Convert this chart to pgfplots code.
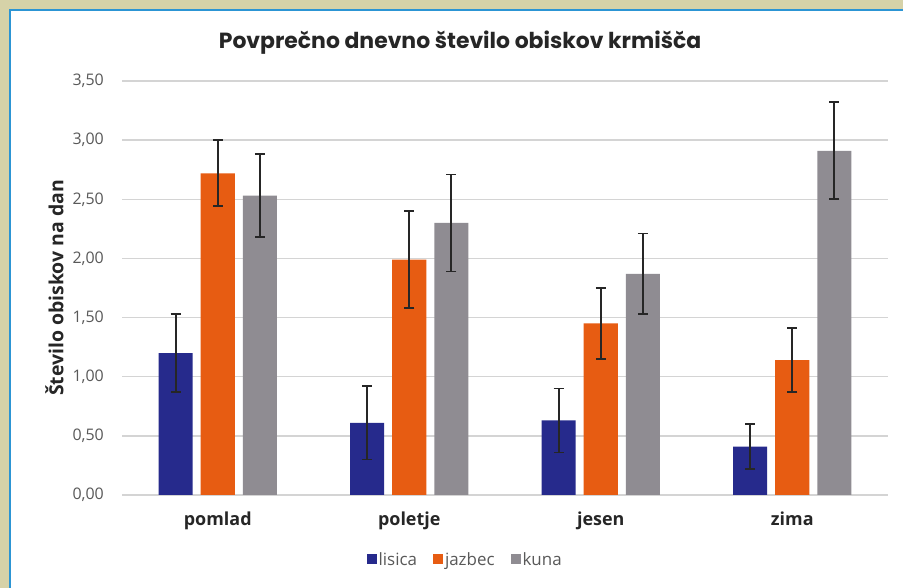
\documentclass[border=0pt]{standalone}
\usepackage{pgfplots}
\pgfplotsset{compat=1.18}
\usepackage{pgfplotstable}
\usepackage{fontspec}
\setmainfont{Open Sans}
\newfontfamily\titlefont{Poppins}

\definecolor{lisica}{HTML}{262A8C}
\definecolor{jazbec}{HTML}{E75C12}
\definecolor{kuna}{HTML}{8F8C92}
\definecolor{frame}{HTML}{D6D2A8}
\definecolor{edge}{HTML}{2C95D4}
\definecolor{txt}{HTML}{595959}

% x = letni cas (0 pomlad, 1 poletje, 2 jesen, 3 zima), y = povprecje, e = napaka
\pgfplotstableread{
x y e
0 1.20 0.33
1 0.61 0.31
2 0.63 0.27
3 0.41 0.19
}\lisica
\pgfplotstableread{
x y e
0 2.72 0.28
1 1.99 0.41
2 1.45 0.30
3 1.14 0.27
}\jazbec
\pgfplotstableread{
x y e
0 2.53 0.35
1 2.30 0.41
2 1.87 0.34
3 2.91 0.41
}\kuna

\begin{document}
\begin{tikzpicture}
\useasboundingbox (0,0) rectangle (903bp,588bp);
\fill[frame] (0,0) rectangle (903bp,588bp);
\fill[white] (10bp,0) rectangle (903bp,578bp);
\draw[edge, line width=1.5bp] (10bp,0) -- (10bp,578bp) -- (903bp,578bp);
\node[font=\titlefont\bfseries\fontsize{22}{26}\selectfont, color=black!85] at (460bp,545bp) {Povprečno dnevno število obiskov krmišča};

\begin{axis}[
  at={(122bp,93bp)}, anchor=south west,
  scale only axis, width=766bp, height=414bp,
  xmin=-0.5, xmax=3.5, ymin=0, ymax=3.5,
  xtick={0,1,2,3},
  xticklabels={pomlad,poletje,jesen,zima},
  ytick={0,0.5,...,3.5},
  /pgf/number format/fixed,
  /pgf/number format/fixed zerofill,
  /pgf/number format/precision=2,
  /pgf/number format/use comma,
  /pgf/number format/assume math mode=true,
  yticklabel style={font=\fontsize{16}{18}\selectfont, color=txt, inner sep=0pt, anchor=east, xshift=-18bp},
  xticklabel style={font=\bfseries\fontsize{18}{20}\selectfont, color=black!85, inner sep=0pt, anchor=north, yshift=-17bp},
  axis line style={draw=none},
  major tick length=0pt,
  ymajorgrids,
  major grid style={draw=black!17, line width=1.3bp},
  ylabel={Število obiskov na dan},
  ylabel style={at={(axis description cs:-0.076,0.5)}, rotate=0, anchor=south, inner sep=0pt, font=\bfseries\fontsize{19.5}{22}\selectfont, color=black!85},
  legend columns=3,
  legend style={at={(axis description cs:0.448,-0.157)}, anchor=center, draw=none, fill=none,
    font=\fontsize{17}{19}\selectfont, text=txt,
    /tikz/every even column/.append style={column sep=14bp}},
  legend image code/.code={\fill[#1] (2bp,-4bp) rectangle (12bp,6bp);},
  error bars/y dir=both, error bars/y explicit,
  error bars/error bar style={line width=1.8bp, color=black!85},
  error bars/error mark options={rotate=90, mark size=5bp, line width=1.8bp, color=black!85},
]
\addplot[ybar, bar width=0.178, bar shift=0, fill=lisica, draw=none] table[x expr=\thisrow{x}-0.22, y=y, y error=e] {\lisica};
\addplot[ybar, bar width=0.178, bar shift=0, fill=jazbec, draw=none] table[x=x, y=y, y error=e] {\jazbec};
\addplot[ybar, bar width=0.178, bar shift=0, fill=kuna, draw=none] table[x expr=\thisrow{x}+0.22, y=y, y error=e] {\kuna};
\legend{lisica, jazbec, kuna}
\end{axis}
\end{tikzpicture}
\end{document}
